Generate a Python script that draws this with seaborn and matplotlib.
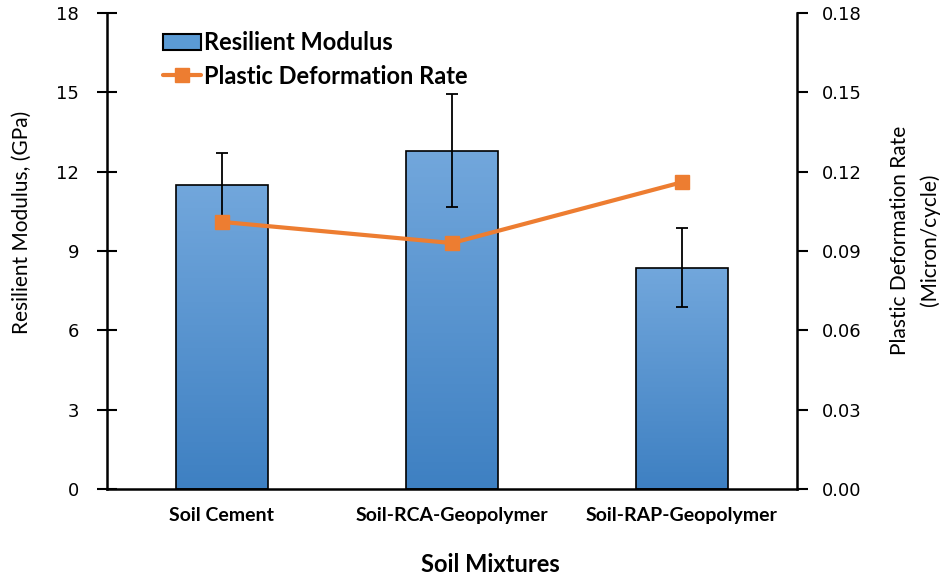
import numpy as np
import pandas as pd
import matplotlib
matplotlib.use("Agg")
import matplotlib.pyplot as plt
import seaborn as sns
from matplotlib.colors import LinearSegmentedColormap
from matplotlib.lines import Line2D
from matplotlib.patches import Patch

categories = ["Soil Cement", "Soil-RCA-Geopolymer", "Soil-RAP-Geopolymer"]
modulus = [11.5, 12.8, 8.37]
modulus_err = [1.2, 2.13, 1.5]
deform_rate = [0.101, 0.093, 0.116]
left_ticks = [0, 3, 6, 9, 12, 15, 18]
right_ticks = [0.00, 0.03, 0.06, 0.09, 0.12, 0.15, 0.18]

sns.set_style("white")
plt.rcParams["font.family"] = ["DejaVu Sans"]
plt.rcParams["text.color"] = "black"
plt.rcParams["axes.labelcolor"] = "black"
plt.rcParams["xtick.color"] = "black"
plt.rcParams["ytick.color"] = "black"

TF = ["Lato", "DejaVu Sans"]

fig = plt.figure(figsize=(9.42, 5.77), dpi=100)
ax = fig.add_axes([0.1136, 0.1525, 0.7324, 0.825])

df = pd.DataFrame({"cat": categories, "mod": modulus})
sns.barplot(data=df, x="cat", y="mod", ax=ax, width=0.4, color="#5B9BD5",
            edgecolor="black", linewidth=1.2, zorder=2)

# gradient fill
cmap = LinearSegmentedColormap.from_list("g", ["#3E80C2", "#72A7DC"])
grad = np.linspace(0, 1, 256).reshape(-1, 1)
for p in ax.patches:
    x0, y0 = p.get_x(), p.get_y()
    w, h = p.get_width(), p.get_height()
    im = ax.imshow(grad, cmap=cmap, origin="lower", aspect="auto",
                   extent=[x0, x0 + w, y0, y0 + h], zorder=2.1)
    im.set_clip_path(p)
    p.set_facecolor("none")
    p.set_zorder(2.2)

xs = np.arange(len(categories))
ax.errorbar(xs, modulus, yerr=modulus_err, fmt="none", ecolor="black",
            elinewidth=1.3, capsize=4.5, capthick=1.3, zorder=3)

ax.set_xlim(-0.5, 2.5)
ax.set_ylim(0, 18)
ax.set_yticks(left_ticks)
ax.set_yticklabels([str(t) for t in left_ticks], fontsize=13)
ax.set_xticks([-0.5, 0.5, 1.5, 2.5])
ax.set_xticklabels([])
ax.set_xticks(xs, minor=True)
ax.set_xticklabels(categories, minor=True, fontsize=14, fontweight="bold", family=TF)
ax.tick_params(axis="x", which="major", direction="out", length=8, width=1.5, color="black")
ax.tick_params(axis="x", which="minor", direction="in", length=4, width=1.5, color="black", pad=13)
ax.tick_params(axis="y", which="major", direction="inout", length=14, width=1.5, color="black", pad=13)
ax.set_xlabel("Soil Mixtures", fontsize=17, fontweight="bold", family=TF)
ax.xaxis.set_label_coords(0.555, -0.158)
ax.xaxis.label.set_va("center")
ax.set_ylabel("Resilient Modulus, (GPa)", fontsize=15, family=TF)
ax.yaxis.set_label_coords(-0.123, 0.561)
ax.yaxis.label.set_va("center")
for s in ["left", "bottom"]:
    ax.spines[s].set_linewidth(1.8)
    ax.spines[s].set_color("black")
ax.spines["top"].set_visible(False)
ax.spines["right"].set_visible(False)

ax2 = ax.twinx()
ax2.plot(xs, deform_rate, color="#ED7D31", linewidth=3, marker="s",
         markersize=10, zorder=4)
ax2.set_ylim(0, 0.18)
ax2.set_yticks(right_ticks)
ax2.set_yticklabels([f"{t:.2f}" for t in right_ticks], fontsize=13)
ax2.tick_params(axis="y", direction="out", length=8, width=1.5, color="black", pad=10)
ax2.set_ylabel("Plastic Deformation Rate\n(Micron/cycle)", fontsize=15,
               family=TF, linespacing=1.55)
ax2.yaxis.set_label_coords(1.171, 0.523)
ax2.yaxis.label.set_va("center")
ax2.spines["right"].set_linewidth(1.8)
ax2.spines["right"].set_color("black")
for s in ["top", "left", "bottom"]:
    ax2.spines[s].set_visible(False)

handles = [Patch(facecolor="#5B9BD5", edgecolor="black", linewidth=1.5),
           Line2D([], [], color="#ED7D31", linewidth=3, marker="s", markersize=10)]
leg = ax.legend(handles, ["Resilient Modulus", "Plastic Deformation Rate"],
                loc="upper left", bbox_to_anchor=(0.081, 0.962), frameon=False,
                prop={"family": TF, "weight": "bold", "size": 17},
                handlelength=1.6, handletextpad=0.15, labelspacing=0.45, borderpad=0,
                borderaxespad=0)

fig.savefig("out.png", dpi=100)
